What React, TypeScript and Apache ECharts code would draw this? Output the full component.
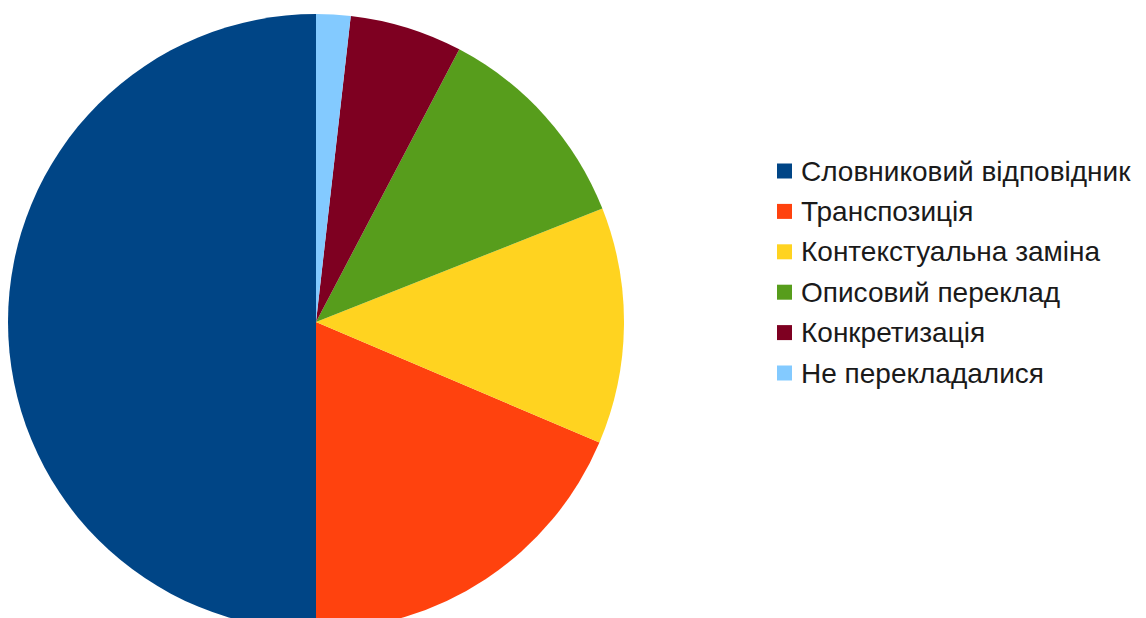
import React, { useEffect, useRef } from "react";
import * as echarts from "echarts";

const categories = [
  "Словниковий відповідник",
  "Транспозиція",
  "Контекстуальна заміна",
  "Описовий переклад",
  "Конкретизація",
  "Не перекладалися",
];
const values = [50, 18.6, 12.4, 11.3, 5.9, 1.8];
const colors = ["#004586", "#ff420e", "#ffd320", "#579d1c", "#7e0021", "#83caff"];

export default function App() {
  const ref = useRef<HTMLDivElement>(null);
  useEffect(() => {
    if (!ref.current) return;
    const chart = echarts.init(ref.current, undefined, { renderer: "svg" });
    chart.setOption({
      animation: false,
      backgroundColor: "#ffffff",
      color: colors,
      legend: {
        orient: "vertical",
        left: 777,
        top: 157,
        padding: 0,
        itemWidth: 15,
        itemHeight: 15,
        itemGap: 12.4,
        icon: "rect",
        selectedMode: false,
        data: categories,
        textStyle: {
          fontFamily: "Liberation Sans",
          fontSize: 28,
          lineHeight: 28,
          color: "#1a1a1a",
          padding: [0, 0, 0, 4],
        },
      },
      series: [
        {
          type: "pie",
          center: [316, 322],
          radius: 308,
          startAngle: 90,
          clockwise: false,
          label: { show: false },
          labelLine: { show: false },
          silent: true,
          itemStyle: { borderWidth: 0 },
          data: categories.map((c, i) => ({ name: c, value: values[i] })),
        },
      ],
    });
    return () => chart.dispose();
  }, []);
  return (
    <div
      ref={ref}
      style={{ position: "fixed", left: 0, top: 0, width: 1146, height: 618 }}
    />
  );
}
